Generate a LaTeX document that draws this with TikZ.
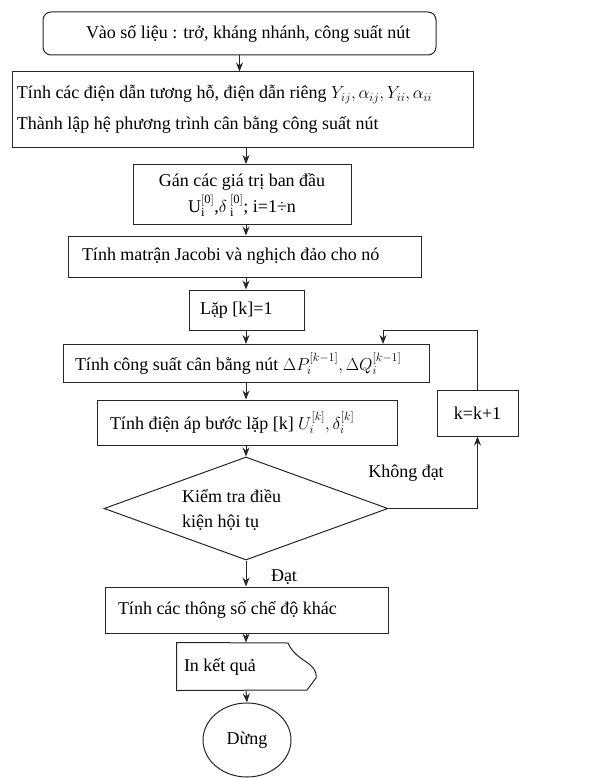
\documentclass[tikz,border=0pt]{standalone}
\usepackage{fontspec}
\setmainfont{Liberation Serif}
\usetikzlibrary{arrows.meta,shapes.geometric}
\newcommand{\leftin}[3]{\makebox[#1][l]{\hspace*{#2}#3}}
\tikzset{
  stroke/.style={draw=black!85, line width=1pt},
  box/.style={stroke, rectangle, inner sep=0pt, font=\fontsize{18}{22}\selectfont},
  lbl/.style={inner sep=0pt, font=\fontsize{18}{22}\selectfont},
  arr/.style={stroke, -{Stealth[length=9pt,width=7pt]}},
  line/.style={stroke}
}
\begin{document}
\begin{tikzpicture}[x=1pt,y=-1pt]
\useasboundingbox (0,0) rectangle (589,778);
\coordinate (ax) at (246,0);

\node[box, rounded corners=8pt, minimum width=393pt, minimum height=43pt] (b1) at (239.5,33.5)
  {\leftin{393pt}{43pt}{Vào số liệu : trở, kháng nhánh, công suất nút}};

\node[box, minimum width=461pt, minimum height=76pt] (b2) at (242.5,110)
  {\leftin{461pt}{5pt}{\begin{tabular}{@{}l@{}}Tính các điện dẫn tương hỗ, điện dẫn riêng $Y_{ij},\alpha_{ij},Y_{ii},\alpha_{ii}$\\[9pt]
   Thành lập hệ phương trình cân bằng công suất nút\end{tabular}}};

\node[box, minimum width=218pt, minimum height=60pt, align=center] (b3) at (242,194.5)
  {Gán các giá trị ban đầu\\[4pt] U$_{\mathrm{i}}^{\mathrm{[0]}}$,$\delta$\,$_{\mathrm{i}}^{\mathrm{[0]}}$; i=1÷n};

\node[box, minimum width=353pt, minimum height=41pt] (b4) at (244.5,256.5)
  {\leftin{353pt}{14pt}{Tính matrận Jacobi và nghịch đảo cho nó}};

\node[box, minimum width=115pt, minimum height=40pt] (b5) at (246.5,310)
  {\leftin{115pt}{11pt}{Lặp [k]=1}};

\node[box, minimum width=366pt, minimum height=38pt] (b6) at (246,363.5)
  {\leftin{366pt}{12pt}{Tính công suất cân bằng nút $\Delta P_i^{[k-1]},\Delta Q_i^{[k-1]}$}};

\node[box, minimum width=300pt, minimum height=45pt] (b7) at (247,422.5)
  {\leftin{300pt}{13pt}{Tính điện áp bước lặp [k] $U_i^{[k]},\delta_i^{[k]}$}};

\node[box, minimum width=81pt, minimum height=46pt] (kb) at (477.5,413) {k=k+1};

\node[stroke, diamond, inner sep=0pt, minimum width=284pt, minimum height=103pt] (dia) at (246,508.5) {};
\node[lbl, anchor=west, align=left] (dt) at (182,510) {Kiểm tra điều\\[3pt]kiện hội tụ};

\node[box, minimum width=283pt, minimum height=46pt] (b8) at (246.5,610)
  {\leftin{283pt}{13pt}{Tính các thông số chế độ khác}};

\node[box, draw=none, minimum width=139pt, minimum height=47pt] (out) at (246.5,666.5)
  {\leftin{139pt}{7pt}{In kết quả}};
\draw[line] (out.north west) -- (288,643) .. controls (296,662) and (318,662) .. (316,678) -- (307,690) -- (out.south west) -- cycle;

\node[stroke, ellipse, inner sep=0pt, minimum width=88pt, minimum height=74pt, font=\fontsize{18}{22}\selectfont] (stop) at (247,740) {Dừng};

\node[lbl] (nd) at (406,473) {Không đạt};
\node[lbl] (ok) at (284,577) {Đạt};

\draw[arr] (b1.south) -- (b1.south |- b2.north);
\draw[arr] (b2.south -| ax) -- (b3.north -| ax);
\draw[arr] (b3.south -| ax) -- (b4.north -| ax);
\draw[arr] (b4.south -| ax) -- (b5.north -| ax);
\draw[arr] (b5.south -| ax) -- (b6.north -| ax);
\draw[arr] (b6.south -| ax) -- (b7.north -| ax);
\draw[arr] (b7.south -| ax) -- (dia.north);
\draw[arr] (dia.south) -- (b8.north -| ax);
\draw[arr] (b8.south -| ax) -- (out.north -| ax);
\draw[arr] (out.south -| ax) -- (stop.north);

\coordinate (lp) at (383,330);
\draw[arr] (kb.north) |- (lp) -- (lp |- b6.north);
\draw[arr] (dia.east) -| (kb.south);
\end{tikzpicture}
\end{document}
